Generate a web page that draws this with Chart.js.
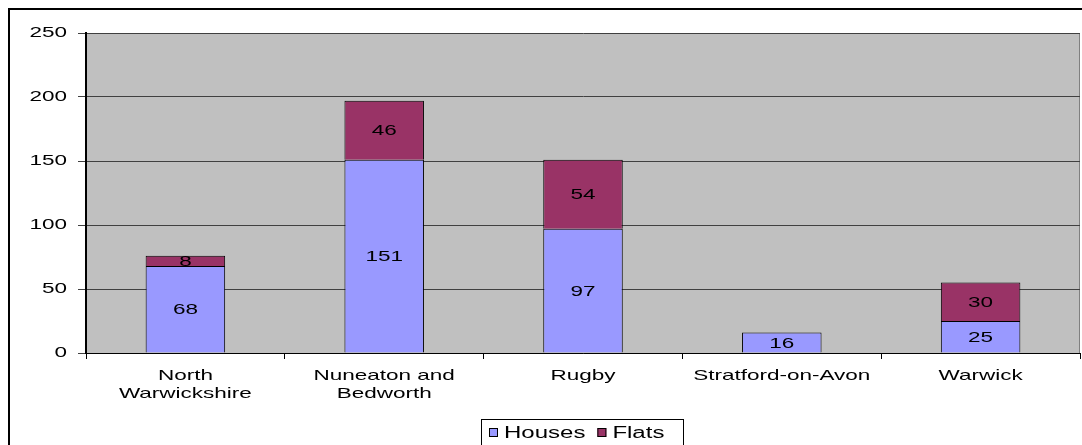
<!DOCTYPE html>
<html>
<head>
<meta charset="utf-8">
<script src="https://cdn.jsdelivr.net/npm/chart.js@4/dist/chart.umd.min.js"></script>
<style>
  html, body { margin: 0; padding: 0; background: #fff; }
  canvas { display: block; }
</style>
</head>
<body>
<canvas id="myBarChart" width="1082" height="445"></canvas>
<script>
// Data
const districts = [['North', 'Warwickshire'], ['Nuneaton and', 'Bedworth'], 'Rugby', 'Stratford-on-Avon', 'Warwick'];
const houses = [68, 151, 97, 16, 25];
const flats = [8, 46, 54, 0, 30];
const yTicks = [0, 50, 100, 150, 200, 250];

const FONT = 'Liberation Sans, Arial, sans-serif';
const SX = 1.5; // the original text is stretched sideways

const ctx = document.getElementById('myBarChart').getContext('2d');

// stretch every piece of text horizontally (draw + measure)
const origFill = ctx.fillText;
ctx.fillText = function (t, x, y) {
    this.save();
    this.translate(x, y);
    this.scale(SX, 1);
    origFill.call(this, t, 0, 0);
    this.restore();
};
const origMeasure = ctx.measureText;
ctx.measureText = function (t) {
    const m = origMeasure.call(this, t);
    return {
        width: m.width * SX,
        actualBoundingBoxAscent: m.actualBoundingBoxAscent,
        actualBoundingBoxDescent: m.actualBoundingBoxDescent,
        actualBoundingBoxLeft: m.actualBoundingBoxLeft * SX,
        actualBoundingBoxRight: m.actualBoundingBoxRight * SX
    };
};

// grey plot area, outer frame
const framePlugin = {
    id: 'frame',
    beforeDraw(chart) {
        const { ctx, chartArea: a } = chart;
        ctx.save();
        ctx.fillStyle = '#c0c0c0';
        ctx.fillRect(a.left, a.top, a.right - a.left, a.bottom - a.top);
        ctx.strokeStyle = '#808080';
        ctx.lineWidth = 1;
        ctx.beginPath();
        ctx.moveTo(a.right - 0.5, a.top);
        ctx.lineTo(a.right - 0.5, a.bottom);
        ctx.stroke();
        ctx.restore();
    },
    afterDraw(chart) {
        const ctx = chart.ctx;
        ctx.save();
        ctx.strokeStyle = '#000';
        ctx.lineWidth = 2;
        ctx.strokeRect(9, 9, 1200, 600);
        ctx.restore();
    }
};

// value labels in the middle of each segment
const valueLabels = {
    id: 'valueLabels',
    afterDatasetsDraw(chart) {
        const ctx = chart.ctx;
        ctx.save();
        ctx.font = '15px ' + FONT;
        ctx.fillStyle = '#000';
        ctx.textAlign = 'center';
        ctx.textBaseline = 'middle';
        chart.data.datasets.forEach((ds, i) => {
            chart.getDatasetMeta(i).data.forEach((bar, j) => {
                if (!ds.data[j]) return;
                ctx.fillText(String(ds.data[j]), bar.x, (bar.y + bar.base) / 2 + 1);
            });
        });
        ctx.restore();
    }
};

// boxed legend under the axis
const boxLegend = {
    id: 'boxLegend',
    afterDraw(chart) {
        const ctx = chart.ctx;
        ctx.save();
        ctx.strokeStyle = '#000';
        ctx.lineWidth = 1;
        ctx.strokeRect(481.5, 419.5, 202, 40);
        ctx.font = '16px ' + FONT;
        ctx.textBaseline = 'middle';
        let x = 489;
        const y = 433;
        chart.data.datasets.forEach((ds) => {
            ctx.fillStyle = ds.backgroundColor;
            ctx.fillRect(x, y - 5, 9, 9);
            ctx.strokeRect(x + 0.5, y - 4.5, 8, 8);
            ctx.fillStyle = '#000';
            ctx.fillText(ds.label, x + 15, y + 1);
            x += 15 + ctx.measureText(ds.label).width + 12;
        });
        ctx.restore();
    }
};

const myBarChart = new Chart(ctx, {
    type: 'bar',
    data: {
        labels: districts,
        datasets: [{
            label: 'Houses',
            data: houses,
            backgroundColor: '#9999ff',
            borderColor: '#000',
            borderWidth: 1,
            categoryPercentage: 1,
            barPercentage: 0.4
        }, {
            label: 'Flats',
            data: flats,
            backgroundColor: '#993366',
            borderColor: '#000',
            borderWidth: 1,
            categoryPercentage: 1,
            barPercentage: 0.4
        }]
    },
    options: {
        responsive: false,
        animation: false,
        layout: { padding: { top: 33, right: 2, left: 0, bottom: 0 } },
        plugins: {
            legend: { display: false },
            tooltip: { enabled: false }
        },
        scales: {
            x: {
                stacked: true,
                afterFit(scale) { scale.height = 92; },
                grid: {
                    offset: true,
                    drawOnChartArea: false,
                    color: '#000',
                    tickLength: 6
                },
                border: { color: '#000', width: 1 },
                ticks: {
                    color: '#000',
                    font: { family: FONT, size: 15, lineHeight: 1.2 },
                    padding: 8,
                    maxRotation: 0,
                    autoSkip: false
                }
            },
            y: {
                stacked: true,
                min: 0,
                max: 250,
                afterFit(scale) { scale.width = 86; },
                afterBuildTicks(scale) { scale.ticks = yTicks.map(v => ({ value: v })); },
                grid: { color: '#404040', lineWidth: 1, tickLength: 8 },
                border: { color: '#000', width: 2 },
                ticks: {
                    color: '#000',
                    font: { family: FONT, size: 15 },
                    padding: 11
                }
            }
        }
    },
    plugins: [framePlugin, valueLabels, boxLegend]
});
</script>
</body>
</html>
